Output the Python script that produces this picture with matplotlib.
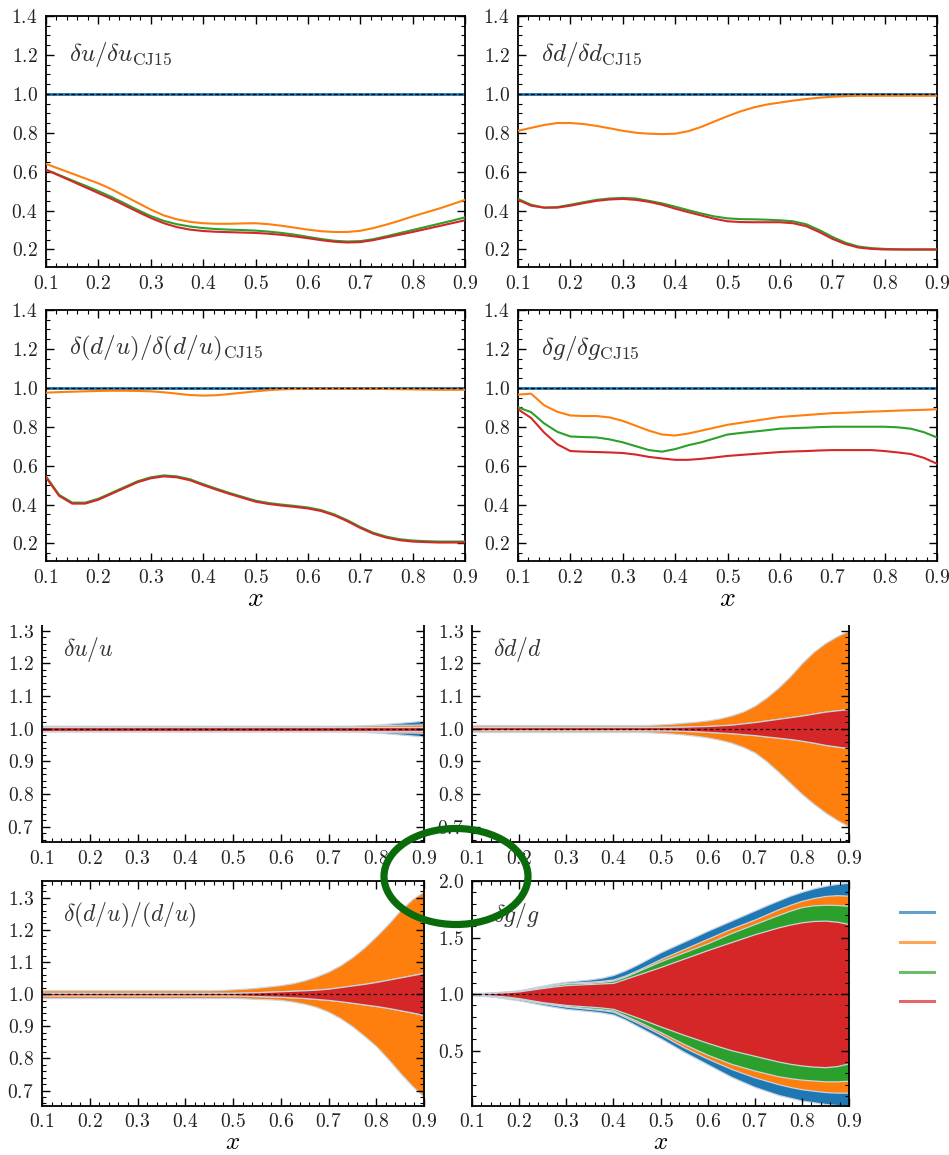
import matplotlib
matplotlib.use("Agg")
import matplotlib.pyplot as plt
from matplotlib.patches import Ellipse, Rectangle
from matplotlib.lines import Line2D
from matplotlib.ticker import AutoMinorLocator, FuncFormatter

plt.rcParams.update({
    "mathtext.fontset": "cm",
    "font.family": "DejaVu Serif",
    "xtick.direction": "in",
    "ytick.direction": "in",
    "xtick.top": True,
    "ytick.right": True,
    "xtick.major.size": 6,
    "ytick.major.size": 6,
    "xtick.minor.size": 3,
    "ytick.minor.size": 3,
    "xtick.major.width": 1.0,
    "ytick.major.width": 1.0,
    "xtick.minor.width": 0.8,
    "ytick.minor.width": 0.8,
    "xtick.major.pad": 6,
    "ytick.major.pad": 6,
    "axes.linewidth": 1.3,
    "lines.solid_joinstyle": "round",
})

C_BLUE, C_ORANGE, C_GREEN, C_RED = "#1f77b4", "#ff7f0e", "#2ca02c", "#d62728"

# x grid the curves were read on (0.1 ... 0.9, step 0.025)
X = [0.1, 0.125, 0.15, 0.175, 0.2, 0.225, 0.25, 0.275, 0.3, 0.325, 0.35,
     0.375, 0.4, 0.425, 0.45, 0.475, 0.5, 0.525, 0.55, 0.575, 0.6, 0.625,
     0.65, 0.675, 0.7, 0.725, 0.75, 0.775, 0.8, 0.825, 0.85, 0.875, 0.9]

# ---- top group: uncertainty relative to CJ15 ----
du_orange = [0.64, 0.615, 0.59, 0.565, 0.54, 0.51, 0.475, 0.44, 0.405, 0.375, 0.355,
             0.342, 0.335, 0.332, 0.332, 0.334, 0.335, 0.33, 0.322, 0.312, 0.302, 0.294,
             0.29, 0.29, 0.296, 0.31, 0.328, 0.348, 0.37, 0.39, 0.41, 0.432, 0.455]
du_green = [0.61, 0.583, 0.555, 0.528, 0.50, 0.47, 0.437, 0.403, 0.372, 0.347, 0.33,
            0.318, 0.31, 0.305, 0.302, 0.30, 0.297, 0.292, 0.285, 0.276, 0.265, 0.254,
            0.245, 0.241, 0.243, 0.253, 0.268, 0.284, 0.30, 0.316, 0.332, 0.348, 0.365]
du_red = [0.61, 0.58, 0.55, 0.52, 0.49, 0.46, 0.427, 0.394, 0.362, 0.335, 0.315,
          0.302, 0.295, 0.291, 0.289, 0.287, 0.285, 0.281, 0.275, 0.267, 0.258, 0.248,
          0.24, 0.236, 0.238, 0.248, 0.262, 0.276, 0.29, 0.305, 0.32, 0.335, 0.35]

dd_orange = [0.81, 0.825, 0.84, 0.85, 0.85, 0.845, 0.835, 0.823, 0.81, 0.80, 0.795,
             0.793, 0.795, 0.808, 0.83, 0.858, 0.885, 0.91, 0.93, 0.945, 0.955, 0.965,
             0.973, 0.98, 0.985, 0.988, 0.99, 0.99, 0.99, 0.99, 0.99, 0.99, 0.99]
dd_green = [0.46, 0.43, 0.415, 0.418, 0.43, 0.443, 0.455, 0.462, 0.465, 0.462, 0.45,
            0.437, 0.42, 0.402, 0.385, 0.37, 0.36, 0.356, 0.355, 0.353, 0.35, 0.345,
            0.33, 0.30, 0.265, 0.235, 0.215, 0.207, 0.203, 0.201, 0.20, 0.20, 0.20]
dd_red = [0.455, 0.425, 0.415, 0.415, 0.425, 0.438, 0.45, 0.457, 0.46, 0.455, 0.445,
          0.43, 0.41, 0.392, 0.375, 0.358, 0.345, 0.341, 0.34, 0.34, 0.34, 0.335,
          0.32, 0.29, 0.255, 0.228, 0.21, 0.203, 0.20, 0.20, 0.20, 0.20, 0.20]

ddu_orange = [0.975, 0.978, 0.98, 0.982, 0.984, 0.985, 0.985, 0.984, 0.982, 0.977, 0.97,
              0.963, 0.96, 0.962, 0.968, 0.975, 0.982, 0.988, 0.992, 0.994, 0.995, 0.995,
              0.995, 0.995, 0.995, 0.995, 0.994, 0.993, 0.992, 0.991, 0.99, 0.99, 0.99]
ddu_green = [0.545, 0.45, 0.41, 0.41, 0.43, 0.46, 0.49, 0.52, 0.54, 0.55, 0.545,
             0.53, 0.505, 0.482, 0.46, 0.44, 0.42, 0.408, 0.40, 0.393, 0.385, 0.372,
             0.35, 0.32, 0.285, 0.255, 0.235, 0.222, 0.215, 0.212, 0.21, 0.21, 0.21]
ddu_red = [0.54, 0.445, 0.405, 0.405, 0.425, 0.455, 0.485, 0.515, 0.535, 0.545, 0.54,
           0.525, 0.50, 0.477, 0.455, 0.435, 0.415, 0.403, 0.395, 0.388, 0.38, 0.367,
           0.345, 0.315, 0.28, 0.25, 0.23, 0.217, 0.21, 0.207, 0.205, 0.205, 0.205]

dg_orange = [0.965, 0.97, 0.91, 0.877, 0.858, 0.855, 0.855, 0.848, 0.83, 0.805, 0.78,
             0.76, 0.755, 0.765, 0.78, 0.795, 0.81, 0.82, 0.83, 0.84, 0.85, 0.855,
             0.86, 0.865, 0.87, 0.872, 0.875, 0.878, 0.88, 0.883, 0.885, 0.887, 0.89]
dg_green = [0.90, 0.875, 0.817, 0.774, 0.75, 0.747, 0.745, 0.735, 0.72, 0.70, 0.68,
            0.672, 0.685, 0.705, 0.72, 0.74, 0.76, 0.768, 0.775, 0.782, 0.79, 0.793,
            0.795, 0.798, 0.80, 0.80, 0.80, 0.80, 0.80, 0.797, 0.79, 0.772, 0.745]
dg_red = [0.89, 0.845, 0.77, 0.71, 0.675, 0.672, 0.67, 0.668, 0.665, 0.657, 0.645,
          0.637, 0.63, 0.63, 0.635, 0.642, 0.65, 0.655, 0.66, 0.665, 0.67, 0.673,
          0.675, 0.678, 0.68, 0.68, 0.68, 0.68, 0.675, 0.668, 0.66, 0.64, 0.61]

ONES = [1.0] * len(X)

# ---- bottom group: relative uncertainty bands (upper, lower) ----
u_blue_up = [1.006] * 25 + [1.007, 1.008, 1.010, 1.012, 1.015, 1.018, 1.021, 1.024]
u_blue_lo = [0.994] * 25 + [0.993, 0.992, 0.990, 0.988, 0.985, 0.982, 0.979, 0.976]
u_orange_up = [1.009] * 27 + [1.010, 1.011, 1.011, 1.012, 1.012, 1.013]
u_orange_lo = [0.991] * 27 + [0.990, 0.989, 0.989, 0.988, 0.988, 0.987]
u_green_up = [1.006] * 33
u_green_lo = [0.994] * 33
u_red_up = [1.006] * 33
u_red_lo = [0.994] * 33

d_blue_up = [1.011] * 33
d_blue_lo = [0.989] * 33
d_orange_up = [1.01] * 15 + [1.011, 1.013, 1.015, 1.018, 1.021, 1.025, 1.031, 1.04, 1.052,
                             1.07, 1.095, 1.125, 1.16, 1.20, 1.235, 1.262, 1.283, 1.30]
d_orange_lo = [0.99] * 15 + [0.989, 0.987, 0.985, 0.982, 0.978, 0.973, 0.966, 0.957, 0.944,
                             0.927, 0.90, 0.868, 0.834, 0.80, 0.77, 0.743, 0.72, 0.70]
d_red_up = [1.005] * 17 + [1.0055, 1.006, 1.007, 1.008, 1.010, 1.012, 1.016,
                           1.02, 1.025, 1.03, 1.035, 1.04, 1.046, 1.052, 1.056, 1.06]
d_red_lo = [0.995] * 17 + [0.9945, 0.993, 0.992, 0.990, 0.988, 0.986, 0.983,
                           0.98, 0.976, 0.972, 0.968, 0.963, 0.957, 0.95, 0.945, 0.94]
d_green_up = d_red_up
d_green_lo = d_red_lo

r_blue_up = [1.01] * 33
r_blue_lo = [0.99] * 33
r_orange_up = [1.012] * 15 + [1.013, 1.015, 1.017, 1.02, 1.024, 1.028, 1.034, 1.043, 1.055,
                              1.07, 1.09, 1.115, 1.145, 1.18, 1.218, 1.26, 1.295, 1.32]
r_orange_lo = [0.988] * 17 + [0.987, 0.985, 0.984, 0.982, 0.977, 0.97, 0.96,
                              0.945, 0.925, 0.90, 0.87, 0.838, 0.798, 0.755, 0.715, 0.68]
r_red_up = [1.004] * 17 + [1.005, 1.006, 1.0075, 1.009, 1.0105, 1.012, 1.014,
                           1.017, 1.022, 1.027, 1.032, 1.038, 1.045, 1.052, 1.059, 1.066]
r_red_lo = [0.996] * 17 + [0.995, 0.994, 0.993, 0.992, 0.990, 0.988, 0.985,
                           0.982, 0.978, 0.973, 0.968, 0.963, 0.957, 0.95, 0.943, 0.935]
r_green_up = r_red_up
r_green_lo = r_red_lo

g_blue_up = [1.01, 1.012, 1.018, 1.026, 1.035, 1.055, 1.075, 1.095, 1.11, 1.12, 1.13,
             1.145, 1.17, 1.21, 1.26, 1.315, 1.37, 1.418, 1.465, 1.512, 1.56, 1.605,
             1.65, 1.695, 1.74, 1.785, 1.828, 1.87, 1.905, 1.935, 1.958, 1.975, 1.985]
g_orange_up = [1.008, 1.01, 1.015, 1.022, 1.03, 1.048, 1.066, 1.085, 1.10, 1.105, 1.11,
               1.118, 1.13, 1.165, 1.21, 1.26, 1.31, 1.355, 1.40, 1.445, 1.49, 1.535,
               1.58, 1.62, 1.66, 1.705, 1.75, 1.79, 1.825, 1.85, 1.868, 1.875, 1.87]
g_green_up = [1.007, 1.009, 1.014, 1.02, 1.028, 1.045, 1.062, 1.08, 1.095, 1.098, 1.10,
              1.108, 1.12, 1.155, 1.20, 1.245, 1.29, 1.33, 1.37, 1.41, 1.45, 1.495,
              1.54, 1.58, 1.62, 1.66, 1.70, 1.738, 1.77, 1.785, 1.79, 1.788, 1.78]
g_red_up = [1.005, 1.007, 1.012, 1.018, 1.025, 1.04, 1.055, 1.068, 1.08, 1.085, 1.09,
            1.095, 1.10, 1.135, 1.17, 1.205, 1.24, 1.278, 1.315, 1.352, 1.39, 1.425,
            1.46, 1.495, 1.53, 1.56, 1.59, 1.615, 1.635, 1.647, 1.65, 1.64, 1.62]
g_blue_lo = [0.99, 0.985, 0.975, 0.96, 0.945, 0.925, 0.905, 0.887, 0.87, 0.86, 0.85,
             0.838, 0.82, 0.775, 0.72, 0.665, 0.61, 0.55, 0.49, 0.435, 0.38, 0.325,
             0.27, 0.225, 0.18, 0.145, 0.11, 0.085, 0.06, 0.045, 0.03, 0.02, 0.015]
g_orange_lo = [0.992, 0.988, 0.98, 0.967, 0.955, 0.937, 0.92, 0.905, 0.89, 0.88, 0.87,
               0.86, 0.845, 0.798, 0.75, 0.698, 0.645, 0.587, 0.53, 0.48, 0.43, 0.385,
               0.34, 0.302, 0.265, 0.235, 0.205, 0.18, 0.16, 0.147, 0.135, 0.13, 0.13]
g_green_lo = [0.993, 0.99, 0.983, 0.972, 0.96, 0.942, 0.925, 0.91, 0.895, 0.885, 0.875,
              0.866, 0.855, 0.81, 0.765, 0.715, 0.665, 0.612, 0.56, 0.512, 0.465, 0.425,
              0.385, 0.355, 0.325, 0.30, 0.275, 0.258, 0.245, 0.237, 0.23, 0.23, 0.235]
g_red_lo = [0.995, 0.992, 0.987, 0.978, 0.965, 0.947, 0.93, 0.917, 0.905, 0.897, 0.89,
            0.882, 0.87, 0.833, 0.795, 0.755, 0.715, 0.678, 0.64, 0.605, 0.57, 0.537,
            0.505, 0.48, 0.455, 0.43, 0.405, 0.385, 0.37, 0.36, 0.355, 0.365, 0.39]

XTICKS = [0.1, 0.2, 0.3, 0.4, 0.5, 0.6, 0.7, 0.8, 0.9]

W, H = 949, 1155
fig = plt.figure(figsize=(W / 100, H / 100), dpi=100)


def px_axes(left, top, right, bottom):
    # axes placed by its pixel box in the 949x1155 canvas
    return fig.add_axes([left / W, 1 - bottom / H, (right - left) / W, (bottom - top) / H])


fmt = FuncFormatter(lambda v, p: r"$%.1f$" % v)


def style(ax, ylim, yticks, yminor, xlabel=None):
    ax.set_xlim(0.1, 0.9)
    ax.set_ylim(*ylim)
    ax.set_xticks(XTICKS)
    ax.set_yticks(yticks)
    ax.xaxis.set_minor_locator(AutoMinorLocator(5))
    ax.yaxis.set_minor_locator(AutoMinorLocator(yminor))
    ax.xaxis.set_major_formatter(fmt)
    ax.yaxis.set_major_formatter(fmt)
    ax.tick_params(labelsize=14, labelcolor="#222222")
    if xlabel is not None:
        size, pad, tickpad = xlabel
        ax.tick_params(axis="x", which="major", pad=tickpad)
        ax.set_xlabel(r"$x$", fontsize=size, labelpad=pad)


# top group
top_panels = [
    ((46, 16, 465, 267), r"$\delta u/\delta u_{\rm CJ15}$", du_orange, du_green, du_red, None),
    ((518, 16, 937, 267), r"$\delta d/\delta d_{\rm CJ15}$", dd_orange, dd_green, dd_red, None),
    ((46, 310, 465, 561), r"$\delta(d/u)/\delta(d/u)_{\rm CJ15}$", ddu_orange, ddu_green, ddu_red, (20, -2, 6)),
    ((518, 310, 937, 561), r"$\delta g/\delta g_{\rm CJ15}$", dg_orange, dg_green, dg_red, (20, -2, 6)),
]
for box, label, yo, yg, yr, xl in top_panels:
    ax = px_axes(*box)
    ax.plot(X, ONES, color=C_BLUE, lw=2.0, zorder=2)
    ax.plot(X, yo, color=C_ORANGE, lw=1.5, zorder=3)
    ax.plot(X, yg, color=C_GREEN, lw=1.5, zorder=3)
    ax.plot(X, yr, color=C_RED, lw=1.5, zorder=3)
    ax.axhline(1.0, color="black", lw=0.9, ls=(0, (3, 2)), zorder=4)
    style(ax, (0.11, 1.4), [0.2, 0.4, 0.6, 0.8, 1.0, 1.2, 1.4], 4, xlabel=xl)
    ax.text(0.055, 0.845, label, transform=ax.transAxes, fontsize=18,
            color="#333333", va="center")

# bottom group
bottom_panels = [
    ((42, 625, 424, 842), r"$\delta u/u$", (0.653, 1.317), [0.7, 0.8, 0.9, 1.0, 1.1, 1.2, 1.3],
     [(u_blue_up, u_blue_lo), (u_orange_up, u_orange_lo), (u_green_up, u_green_lo), (u_red_up, u_red_lo)],
     None, True, 0.885),
    ((472, 625, 849, 842), r"$\delta d/d$", (0.653, 1.317), [0.7, 0.8, 0.9, 1.0, 1.1, 1.2, 1.3],
     [(d_blue_up, d_blue_lo), (d_orange_up, d_orange_lo), (d_green_up, d_green_lo), (d_red_up, d_red_lo)],
     None, True, 0.885),
    ((42, 881, 424, 1106), r"$\delta(d/u)/(d/u)$", (0.652, 1.352), [0.7, 0.8, 0.9, 1.0, 1.1, 1.2, 1.3],
     [(r_blue_up, r_blue_lo), (r_orange_up, r_orange_lo), (r_green_up, r_green_lo), (r_red_up, r_red_lo)],
     (18, 0, 5), False, 0.845),
    ((472, 881, 849, 1106), r"$\delta g/g$", (0.012, 2.0), [0.5, 1.0, 1.5, 2.0],
     [(g_blue_up, g_blue_lo), (g_orange_up, g_orange_lo), (g_green_up, g_green_lo), (g_red_up, g_red_lo)],
     (18, 0, 5), False, 0.845),
]
for box, label, ylim, yticks, bands, xl, cut, ty in bottom_panels:
    ax = px_axes(*box)
    for (up, lo), c in zip(bands, [C_BLUE, C_ORANGE, C_GREEN, C_RED]):
        ax.fill_between(X, lo, up, facecolor=c, edgecolor="#c9d4de", lw=0.9)
    ax.axhline(1.0, color="black", lw=0.9, ls=(0, (2.5, 2.5)), zorder=5)
    style(ax, ylim, yticks, 5, xlabel=xl)
    if cut:
        ax.spines["top"].set_visible(False)
        ax.tick_params(which="both", top=False)
    ax.text(0.055, ty, label, transform=ax.transAxes, fontsize=17,
            color="#333333", va="center")

# the source image is cropped just above the middle row
fig.add_artist(Rectangle((0, 1 - 625 / H), 1, 13 / H, transform=fig.transFigure,
                         facecolor="white", edgecolor="none", zorder=20))

# legend handles (labels are cut off in the source)
handles = [Line2D([], [], color=c, lw=2.2, alpha=0.7) for c in (C_BLUE, C_ORANGE, C_GREEN, C_RED)]
fig.legend(handles, [" "] * 4, loc="upper left", bbox_to_anchor=(900 / W, 1 - 905 / H),
           frameon=False, fontsize=14, handlelength=1.75, labelspacing=0.6,
           borderpad=0, borderaxespad=0, handletextpad=0.3)

# green highlight ellipse
fig.add_artist(Ellipse((456 / W, 1 - 876.5 / H), 144 / W, 96 / H, transform=fig.transFigure,
                       fill=False, edgecolor="#0a6b0a", lw=5.2, zorder=30))

fig.savefig("out.png", dpi=100)
